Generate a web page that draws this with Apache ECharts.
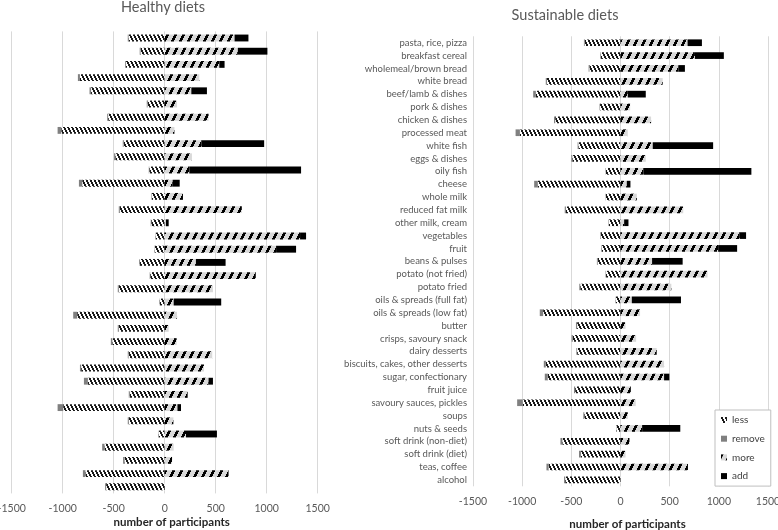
<!DOCTYPE html>
<html><head><meta charset="utf-8">
<script src="https://cdn.jsdelivr.net/npm/echarts@6/dist/echarts.min.js"></script>
<style>html,body{margin:0;padding:0;background:#fff}#c{width:778px;height:530px}</style>
</head><body><div id="c"></div>
<script>
const categories = ["pasta, rice, pizza","breakfast cereal","wholemeal/brown bread","white bread","beef/lamb & dishes","pork & dishes","chicken & dishes","processed meat","white fish","eggs & dishes","oily fish","cheese","whole milk","reduced fat milk","other milk, cream","vegetables","fruit","beans & pulses","potato (not fried)","potato fried","oils & spreads (full fat)","oils & spreads (low fat)","butter","crisps, savoury snack","dairy desserts","biscuits, cakes, other desserts","sugar, confectionary","fruit juice","savoury sauces, pickles","soups","nuts & seeds","soft drink (non-diet)","soft drink (diet)","teas, coffee","alcohol"];
const xTicks = [-1500,-1000,-500,0,500,1000,1500];
const seriesNames = ["less","remove","more","add"];

// Healthy diets
const healthyLess   = [-354,-237,-380,-831,-722,-168,-554,-1014,-403,-484,-151,-808,-125,-440,-132,-88,-98,-246,-142,-450,-49,-858,-450,-513,-354,-819,-753,-344,-995,-352,-59,-590,-393,-777,-574];
const healthyRemove = [-8,-8,-8,-20,-15,-8,-10,-36,-8,-12,-5,-33,-5,-10,-5,-3,-3,-5,-5,-10,-3,-39,-10,-15,-8,-12,-39,-8,-55,-10,-3,-23,-15,-25,-10];
const healthyMore   = [685,717,535,339,261,121,430,95,362,267,241,78,179,756,12,1327,1092,306,893,473,88,121,39,117,466,385,430,225,125,85,209,88,72,626,0];
const healthyAdd    = [136,290,52,0,153,0,0,0,613,0,1096,69,0,0,27,59,196,291,0,0,466,0,0,0,0,0,43,0,35,0,303,0,0,0,0];

// Sustainable diets
const sustLess   = [-364,-201,-316,-748,-861,-208,-664,-1023,-428,-490,-149,-841,-149,-555,-117,-201,-191,-232,-147,-409,-48,-787,-441,-485,-441,-760,-740,-461,-994,-368,-41,-591,-402,-731,-562];
const sustRemove = [-8,-5,-8,-12,-27,-5,-12,-44,-8,-10,-3,-37,-3,-12,-5,-5,-5,-8,-5,-10,-3,-34,-12,-12,-8,-20,-30,-12,-57,-10,-3,-20,-20,-22,-12];
const sustMore   = [682,757,588,429,74,98,311,74,328,257,233,64,166,638,37,1213,993,321,885,517,115,199,51,159,368,443,443,105,155,74,220,91,51,686,0];
const sustAdd    = [146,294,67,0,183,0,0,0,614,0,1098,37,0,0,44,64,193,311,0,0,500,0,0,0,0,0,54,0,0,0,388,0,0,0,0];

function hatch(w,h,bg,fg,fn){
  const c=document.createElement('canvas'); c.width=w; c.height=h;
  const g=c.getContext('2d'); g.fillStyle=bg; g.fillRect(0,0,w,h); g.fillStyle=fg;
  for(let y=0;y<h;y++) for(let x=0;x<w;x++) if(fn(x,y)) g.fillRect(x,y,1,1);
  return {image:c, repeat:'repeat'};
}
const lessPat = hatch(4,8,'#ffffff','#1a1a1a',(x,y)=>{const x0=Math.floor(y/2)%4; return x===x0||x===(x0+1)%4;});
const morePat = hatch(8,16,'#d9d9d9','#000000',(x,y)=>{const x0=Math.floor((15-y)/2); return ((x-x0+16)%8)<3;});
const colors = {less:lessPat, remove:'#808080', more:morePat, add:'#000000'};

const FONT='Lato';
function xAxis(gi, gap, margin){
  return {gridIndex:gi, type:'value', min:xTicks[0], max:xTicks[xTicks.length-1], interval:xTicks[1]-xTicks[0],
    axisLine:{show:false}, axisTick:{show:false},
    splitLine:{show:true, lineStyle:{color:'#d9d9d9', width:1}},
    axisLabel:{color:'#595959', fontSize:10.5, fontFamily:FONT, margin:margin, formatter:(v)=>String(v)},
    name:'number of participants', nameLocation:'middle', nameGap:gap, nameMoveOverlap:false,
    nameTextStyle:{color:'#262626', fontSize:11.5, fontWeight:'bold', fontFamily:FONT, padding:[0,0,0,14]}};
}
function yAxis(gi, showLabels){
  return {gridIndex:gi, type:'category', inverse:true, data:categories,
    axisLine:{show:false}, axisTick:{show:false}, splitLine:{show:false},
    axisLabel:{show:showLabels, color:'#595959', fontSize:9.5, fontFamily:FONT, margin:6, interval:0}};
}
const dataSets = [[healthyLess,healthyRemove,healthyMore,healthyAdd],[sustLess,sustRemove,sustMore,sustAdd]];
const series = [];
dataSets.forEach((arrs, gi)=>{
  arrs.forEach((arr, k)=>{
    series.push({name:seriesNames[k], type:'bar', xAxisIndex:gi, yAxisIndex:gi, stack:'s'+gi,
      data:arr, barWidth:'52%', itemStyle:{color:colors[seriesNames[k]]}, emphasis:{disabled:true}, animation:false});
  });
});

const chart = echarts.init(document.getElementById('c'), null, {renderer:'canvas'});
chart.setOption({
  animation:false,
  textStyle:{fontFamily:FONT},
  title:[
    {text:'Healthy diets', left:163, top:0, padding:0, textAlign:'center', textStyle:{fontSize:14.5, fontWeight:'normal', color:'#595959', fontFamily:FONT}},
    {text:'Sustainable diets', left:565, top:8, padding:0, textAlign:'center', textStyle:{fontSize:14.5, fontWeight:'normal', color:'#595959', fontFamily:FONT}}
  ],
  legend:{data:seriesNames, orient:'vertical', left:715, top:410, icon:'rect', itemWidth:6, itemHeight:6, itemGap:6.7,
    padding:[4,6,4,6], borderColor:'#bfbfbf', borderWidth:1, backgroundColor:'#fff', selectedMode:false,
    textStyle:{fontSize:10, color:'#404040', lineHeight:12, fontFamily:FONT}},
  grid:[
    {left:11.7, top:31.4, width:306, height:462, containLabel:false, outerBoundsMode:'none'},
    {left:473, top:36.3, width:295, height:450, containLabel:false, outerBoundsMode:'none'}
  ],
  xAxis:[xAxis(0,23,10), xAxis(1,32,10)],
  yAxis:[yAxis(0,false), yAxis(1,true)],
  series:series
});
</script></body></html>
